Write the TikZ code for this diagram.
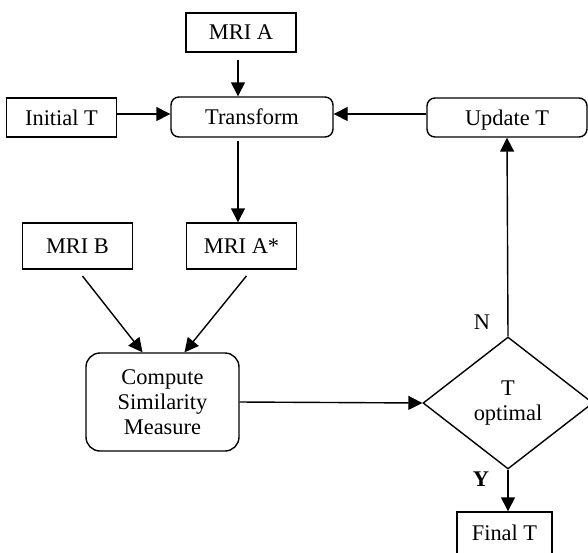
\documentclass[tikz,border=0pt]{standalone}
\usepackage{fontspec}
\setmainfont{Liberation Serif}
\usetikzlibrary{shapes.geometric,arrows.meta}
\begin{document}
\begin{tikzpicture}[x=0.5pt,y=-0.5pt]
	\tikzstyle{every node}=[font=\fontsize{11.2}{12.5}\selectfont, align=center, inner sep=0pt]
	\tikzstyle{box}=[draw, line width=0.7pt, minimum width=55pt, minimum height=19.5pt]
	\tikzstyle{roundbox}=[box, rounded corners=4pt]
	\tikzstyle{decision}=[draw, diamond, line width=0.7pt, minimum width=85pt, minimum height=66pt]
	\tikzstyle{flow}=[-{Triangle[length=7pt,width=7pt]}, line width=0.7pt]
	\useasboundingbox (0,0) rectangle (588,552);

	\node[box] (mriA) at (241,32.5) {MRI A};
	\node[box] (initT) at (61.5,117.5) {Initial T};
	\node[roundbox, minimum width=81pt, minimum height=20pt] (transform) at (252,117) {Transform};
	\node[roundbox, minimum width=80pt, text height=7.5pt, text depth=0pt] (update) at (507,117.5) {Update T};
	\node[box, minimum height=23pt] (mriB) at (77.5,246) {MRI B};
	\node[box, minimum height=23pt] (mriAs) at (241.5,246) {MRI A*};
	\node[roundbox, rounded corners=7pt, minimum width=76.5pt, minimum height=49pt] (compute) at (162.5,402) {Compute\\Similarity\\Measure};
	\node[decision] (opt) at (508,403) {T\\optimal};
	\node[box, minimum width=47.5pt, minimum height=21pt] (finalT) at (504.5,533) {Final T};
	\node (labN) at (482,322) {N};
	\node[font=\fontsize{11.2}{12.5}\selectfont\bfseries] (labY) at (481,479) {Y};

	\draw[flow, shorten <=3.5pt] ([xshift=-1.5pt]mriA.south) -- ([xshift=-1.5pt]mriA.south |- transform.north);
	\draw[flow] ([yshift=1.75pt]initT.east) -- ([yshift=1.75pt]initT.east -| transform.west);
	\draw[flow] ([yshift=1.75pt]update.west) -- ([yshift=1.75pt]update.west -| transform.east);
	\draw[flow, shorten <=1.5pt] ([xshift=-7pt]transform.south) -- ([xshift=-7pt]transform.south |- mriAs.north);
	\draw[flow, shorten <=4pt] (mriB.south) -- ([xshift=-10pt]compute.north);
	\draw[flow, shorten <=4pt] ([xshift=5pt]mriAs.south) -- ([xshift=11pt]compute.north);
	\draw[flow] (compute.east) -- (opt.west);
	\draw[flow] (opt.north) -- (update.south);
	\draw[flow] (opt.south) -- (opt.south |- finalT.north);
\end{tikzpicture}
\end{document}
